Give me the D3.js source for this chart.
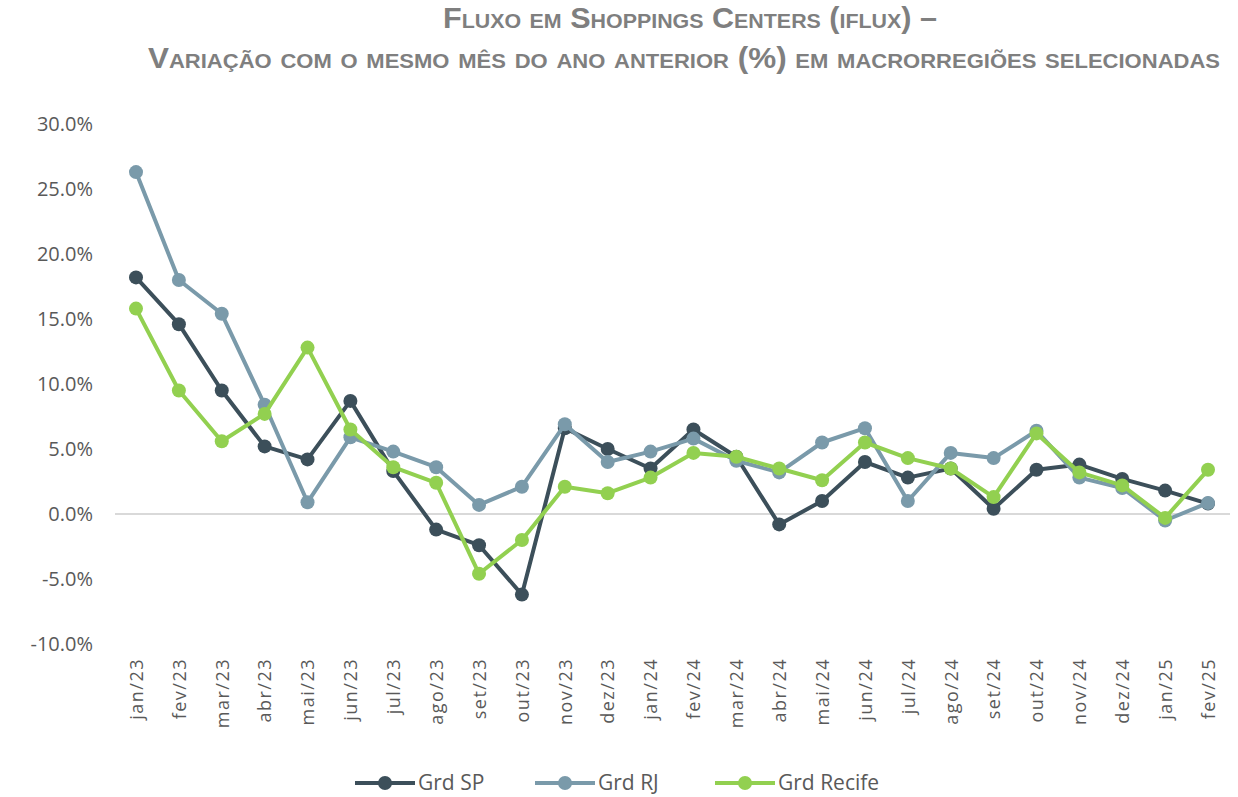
<!DOCTYPE html>
<html>
<head>
<meta charset="utf-8">
<script src="https://cdn.jsdelivr.net/npm/d3@7"></script>
<style>
  body { margin: 0; background: #fff; }
  svg { display: block; }
  .title { font-family: "Liberation Sans", Arial, sans-serif; font-weight: bold; font-variant: small-caps; fill: #7f7f7f; }
  .axis text { font-family: "Open Sans", "Noto Sans", sans-serif; fill: #595959; }
  .legend text { font-family: "Open Sans", "Noto Sans", sans-serif; fill: #595959; font-size: 20px; }
</style>
</head>
<body>
<svg width="1238" height="797"></svg>
<script>
// month labels
var months = ["jan/23", "fev/23", "mar/23", "abr/23", "mai/23", "jun/23", "jul/23", "ago/23",
  "set/23", "out/23", "nov/23", "dez/23", "jan/24", "fev/24", "mar/24", "abr/24", "mai/24",
  "jun/24", "jul/24", "ago/24", "set/24", "out/24", "nov/24", "dez/24", "jan/25", "fev/25"];

// series values, % change vs same month previous year
var grdSP = [18.2, 14.6, 9.5, 5.2, 4.2, 8.7, 3.3, -1.2, -2.4, -6.2, 6.6, 5.0, 3.5, 6.5,
  4.4, -0.8, 1.0, 4.0, 2.8, 3.5, 0.4, 3.4, 3.8, 2.7, 1.8, 0.8];
var grdRJ = [26.3, 18.0, 15.4, 8.4, 0.9, 5.9, 4.8, 3.6, 0.7, 2.1, 6.9, 4.0, 4.8, 5.8,
  4.1, 3.2, 5.5, 6.6, 1.0, 4.7, 4.3, 6.4, 2.8, 2.0, -0.5, 0.85];
var grdRecife = [15.8, 9.5, 5.6, 7.7, 12.8, 6.5, 3.6, 2.4, -4.6, -2.0, 2.1, 1.6, 2.8, 4.7,
  4.4, 3.5, 2.6, 5.5, 4.3, 3.5, 1.3, 6.2, 3.2, 2.2, -0.3, 3.4];

var yTicks = [-10, -5, 0, 5, 10, 15, 20, 25, 30];

var series = [
  {name: "Grd SP", values: grdSP, color: "#3c4f5a"},
  {name: "Grd RJ", values: grdRJ, color: "#7a9aaa"},
  {name: "Grd Recife", values: grdRecife, color: "#92d050"}
];

var svg = d3.select("svg");

// title, two lines (fitted to the original's width)
svg.append("text").attr("class", "title")
   .attr("x", 443).attr("y", 28)
   .attr("textLength", 494).attr("lengthAdjust", "spacingAndGlyphs")
   .style("font-size", "30px")
   .text("Fluxo em Shoppings Centers (iflux) –");
svg.append("text").attr("class", "title")
   .attr("x", 148).attr("y", 68)
   .attr("textLength", 1072).attr("lengthAdjust", "spacingAndGlyphs")
   .style("font-size", "30px")
   .text("Variação com o mesmo mês do ano anterior (%) em macrorregiões selecionadas");

// scales
var x = d3.scalePoint()
          .domain(months)
          .range([136, 1208]);

var y = d3.scaleLinear()
          .domain([-10, 30])
          .range([644, 124]);

// y axis labels only
var yAxis = svg.append("g").attr("class", "axis")
   .attr("transform", "translate(93,0)")
   .call(d3.axisLeft(y).tickValues(yTicks).tickSize(0).tickPadding(0)
           .tickFormat(function(d) { return d.toFixed(1) + "%"; }));
yAxis.select(".domain").remove();
yAxis.selectAll("text").style("font-size", "20px").attr("dy", "0.3em");

// zero line
svg.append("line")
   .attr("x1", 115).attr("x2", 1230)
   .attr("y1", y(0)).attr("y2", y(0))
   .style("stroke", "#d9d9d9").style("stroke-width", 2);

// x axis labels, rotated
var xAxis = svg.append("g").attr("class", "axis")
   .attr("transform", "translate(0,658)")
   .call(d3.axisBottom(x).tickSize(0).tickPadding(0));
xAxis.select(".domain").remove();
xAxis.selectAll("text")
     .style("font-size", "18px")
     .style("letter-spacing", "1.5px")
     .attr("text-anchor", "end")
     .attr("transform", "rotate(-90)")
     .attr("x", 0).attr("y", 0).attr("dy", "0.35em");

// lines and markers
var line = d3.line()
             .x(function(d, i) { return x(months[i]); })
             .y(function(d) { return y(d); });

var plot = svg.append("g").attr("id", "plot");

series.forEach(function(s) {
  plot.append("path")
      .datum(s.values)
      .attr("d", line)
      .style("fill", "none")
      .style("stroke", s.color)
      .style("stroke-width", 4)
      .style("stroke-linejoin", "round");

  plot.selectAll(null)
      .data(s.values)
      .enter()
      .append("circle")
      .attr("cx", function(d, i) { return x(months[i]); })
      .attr("cy", function(d) { return y(d); })
      .attr("r", 7)
      .style("fill", s.color);
});

// legend
var legend = svg.append("g").attr("class", "legend")
                .attr("transform", "translate(355,783)");

series.forEach(function(s, i) {
  var g = legend.append("g").attr("transform", "translate(" + (i * 180) + ",0)");
  g.append("line").attr("x1", 0).attr("x2", 60).attr("y1", 0).attr("y2", 0)
   .style("stroke", s.color).style("stroke-width", 4);
  g.append("circle").attr("cx", 30).attr("cy", 0).attr("r", 7).style("fill", s.color);
  g.append("text").attr("x", 63).attr("y", 0).attr("dy", "0.35em")
   .style("font-size", "21px").text(s.name);
});
</script>
</body>
</html>
